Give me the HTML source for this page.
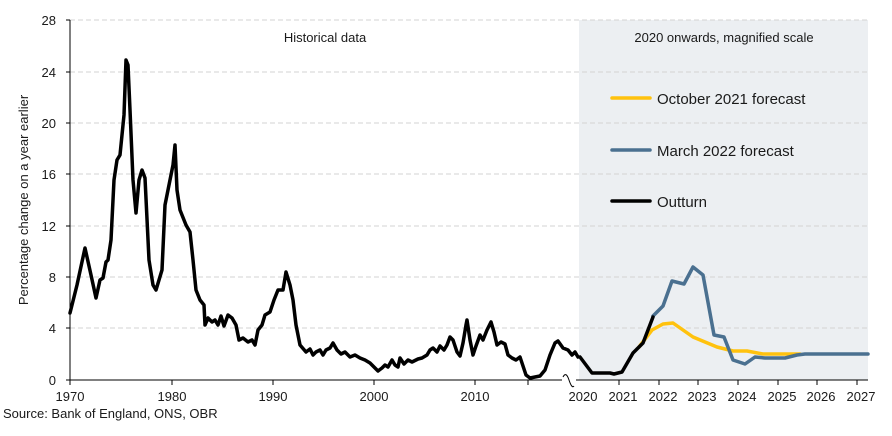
<!DOCTYPE html>
<html><head><style>
body{margin:0;background:#fff;}
svg text{font-family:"Liberation Sans",sans-serif;fill:#1a1a1a;}
</style></head><body>
<svg width="892" height="431" viewBox="0 0 892 431" xmlns="http://www.w3.org/2000/svg">
<rect x="579" y="20" width="289" height="360" fill="#eceff2"/>
<g stroke="#d3d3d3" stroke-width="1" stroke-dasharray="5,3">
<line x1="70" x2="868" y1="20" y2="20"/>
<line x1="70" x2="868" y1="72" y2="72"/>
<line x1="70" x2="868" y1="123" y2="123"/>
<line x1="70" x2="868" y1="174" y2="174"/>
<line x1="70" x2="868" y1="226" y2="226"/>
<line x1="70" x2="868" y1="277" y2="277"/>
<line x1="70" x2="868" y1="328" y2="328"/>
</g>
<g stroke="#000" stroke-width="1">
<line x1="70" y1="20" x2="70" y2="380"/>
<line x1="70" y1="380" x2="868" y2="380"/>
<line x1="66" x2="70" y1="20" y2="20"/><line x1="66" x2="70" y1="72" y2="72"/><line x1="66" x2="70" y1="123" y2="123"/><line x1="66" x2="70" y1="174" y2="174"/><line x1="66" x2="70" y1="226" y2="226"/><line x1="66" x2="70" y1="277" y2="277"/><line x1="66" x2="70" y1="328" y2="328"/><line x1="66" x2="70" y1="380" y2="380"/>
<line x1="70" x2="70" y1="380" y2="385"/><line x1="172" x2="172" y1="380" y2="385"/><line x1="273" x2="273" y1="380" y2="385"/><line x1="374" x2="374" y1="380" y2="385"/><line x1="475" x2="475" y1="380" y2="385"/><line x1="528" x2="528" y1="380" y2="385"/>
<line x1="619" x2="619" y1="380" y2="385"/><line x1="659" x2="659" y1="380" y2="385"/><line x1="698" x2="698" y1="380" y2="385"/><line x1="738" x2="738" y1="380" y2="385"/><line x1="778" x2="778" y1="380" y2="385"/><line x1="817" x2="817" y1="380" y2="385"/><line x1="857" x2="857" y1="380" y2="385"/>
</g>
<rect x="562" y="376" width="14" height="10" fill="#fff"/>
<path d="M563,377 q3,-6 6,3 t5,6" fill="none" stroke="#000" stroke-width="1"/>
<g font-size="13" text-anchor="end">
<text x="56" y="25">28</text><text x="56" y="77">24</text><text x="56" y="128">20</text><text x="56" y="179">16</text><text x="56" y="231">12</text><text x="56" y="282">8</text><text x="56" y="333">4</text><text x="56" y="385">0</text>
</g>
<g font-size="13" text-anchor="middle">
<text x="70" y="401">1970</text><text x="172" y="401">1980</text><text x="273" y="401">1990</text><text x="374" y="401">2000</text><text x="475" y="401">2010</text>
<text x="583" y="401">2020</text><text x="623" y="401">2021</text><text x="663" y="401">2022</text><text x="702" y="401">2023</text><text x="742" y="401">2024</text><text x="782" y="401">2025</text><text x="821" y="401">2026</text><text x="861" y="401">2027</text>
<text x="325" y="42">Historical data</text>
<text x="724" y="42">2020 onwards, magnified scale</text>
</g>
<text x="28" y="200" font-size="13" text-anchor="middle" transform="rotate(-90 28 200)">Percentage change on a year earlier</text>
<text x="3" y="418" font-size="13">Source: Bank of England, ONS, OBR</text>
<g fill="none" stroke-linejoin="round" stroke-linecap="round">
<polyline stroke="#000" stroke-width="3.5" points="70,313 77,285 85,248 91,275 96,298 100,280 103,278 106,262 108,260 111,240 114,180 117,160 120,155 124,115 126,60 128,65 130,110 133,180 136,213 139,180 142,170 145,178 149,260 153,285 156,290 159,280 162,270 165,205 169,185 173,165 175,145 177,190 180,210 186,225 190,232 193,260 196,290 200,300 204,305 205,325 208,318 212,322 215,320 218,325 221,316 224,326 228,315 232,318 236,325 239,340 243,338 248,342 252,340 255,345 258,330 262,325 265,315 270,312 274,300 278,290 283,290 286,272 290,285 293,300 296,325 300,345 306,352 310,349 313,355 316,352 320,350 323,355 326,350 330,348 333,343 337,350 341,354 345,352 350,357 355,355 360,358 365,360 370,363 375,368 378,371 382,368 385,365 388,367 392,360 395,365 398,367 400,358 404,364 408,360 412,362 418,359 422,358 427,355 430,350 433,348 437,352 440,346 444,350 447,345 450,337 453,340 457,352 460,356 463,343 466,325 467,320 470,340 473,355 476,346 480,335 483,340 487,330 491,322 494,332 497,345 501,342 505,344 508,355 512,358 516,360 520,357 526,375 530,378 540,376 545,370 550,355 555,343 558,341 563,348 568,350 572,355 575,352 578,357"/>
<polyline stroke="#ffc20e" stroke-width="3.5" points="639,347 652,330 663,324 673,323 693,337 717,347 733,351 747,351 763,354 800,354"/>
<polyline stroke="#4a7090" stroke-width="3.5" points="653,316 663,306 672,281 684,284 693,267 703,275 714,335 724,337 733,360 745,364 755,357 765,358 785,358 797,355 805,354 868,354"/>
<polyline stroke="#000" stroke-width="3.5" points="580,357 586,365 592,373 610,373 614,374 622,372 633,353 643,343 653,317"/>
<line x1="612" y1="98" x2="650" y2="98" stroke="#ffc20e" stroke-width="3.5"/>
<line x1="612" y1="150" x2="650" y2="150" stroke="#4a7090" stroke-width="3.5"/>
<line x1="612" y1="201" x2="650" y2="201" stroke="#000" stroke-width="3.5"/>
</g>
<g font-size="15">
<text x="657" y="104">October 2021 forecast</text>
<text x="657" y="156">March 2022 forecast</text>
<text x="657" y="207">Outturn</text>
</g>
</svg>
</body></html>
